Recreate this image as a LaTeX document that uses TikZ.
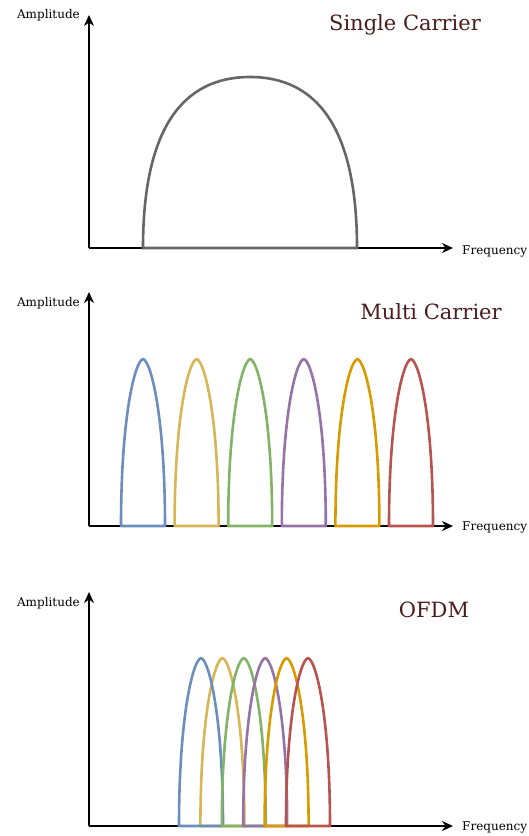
\documentclass[tikz,border=0pt]{standalone}
\usepackage{fontspec}
\setmainfont{DejaVu Serif}
\usetikzlibrary{arrows.meta}
\definecolor{titlered}{HTML}{4A1C1C}
\definecolor{domegray}{HTML}{666666}
\definecolor{cblue}{HTML}{6C8EBF}
\definecolor{cyellow}{HTML}{D6B656}
\definecolor{cgreen}{HTML}{82B366}
\definecolor{cpurple}{HTML}{9673A6}
\definecolor{corange}{HTML}{D79B00}
\definecolor{cred}{HTML}{B85450}

\begin{document}
\begin{tikzpicture}[x=1pt, y=-1pt,
    axis/.style={line width=1.8pt, -{Stealth[length=11pt,width=10pt]}},
    lbl/.style={font=\fontsize{12}{14}\selectfont, inner sep=1pt},
    title/.style={font=\fontsize{21}{24}\selectfont, text=titlered},
    lobe/.style={line width=2.6pt, line join=round}]
	\useasboundingbox (0,0) rectangle (528,836);
	
	% --- Single Carrier ---
	\coordinate (O1) at (89,248);
	\coordinate (Y1) at (89,15);
	\coordinate (X1) at (453,248);
	\draw[axis] (O1) -- (Y1);
	\draw[axis] (O1) -- (X1);
	\node[lbl, anchor=east] (amp1) at (81,15) {Amplitude};
	\node[lbl, anchor=west] (freq1) at (461,251) {Frequency};
	\node[title] (title1) at (405,25) {Single Carrier};
	
	% Spektrum eines Traegers
	\draw[domegray, line width=2.6pt] (143,248) .. controls (143,128) and (183,77) .. (250,77)
		.. controls (317,77) and (357,128) .. (357,248) -- cycle;
	
	% --- Multi Carrier ---
	\coordinate (O2) at (89,526);
	\coordinate (Y2) at (89,292);
	\coordinate (X2) at (453,526);
	\draw[axis] (O2) -- (Y2);
	\draw[axis] (O2) -- (X2);
	\node[lbl, anchor=east] (amp2) at (81,303) {Amplitude};
	\node[lbl, anchor=west] (freq2) at (461,527) {Frequency};
	\node[title] (title2) at (431,312) {Multi Carrier};
	
	% getrennte Unterträger
	\foreach \c [count=\i from 0] in {cblue,cyellow,cgreen,cpurple,corange,cred} {
		\pgfmathsetmacro\xa{121+53.6*\i}
		\draw[lobe, \c] (\xa,526) .. controls (\xa,416) and (\xa+14,361) .. (\xa+22,359)
			.. controls (\xa+30,361) and (\xa+44,416) .. (\xa+44,526) -- cycle;
	}
	
	% --- OFDM ---
	\coordinate (O3) at (89,826);
	\coordinate (Y3) at (89,592);
	\coordinate (X3) at (453,826);
	\draw[axis] (O3) -- (Y3);
	\draw[axis] (O3) -- (X3);
	\node[lbl, anchor=east] (amp3) at (81,603) {Amplitude};
	\node[lbl, anchor=west] (freq3) at (461,827) {Frequency};
	\node[title] (title3) at (434,610) {OFDM};
	
	% überlappende Unterträger
	\foreach \i/\c in {1/cyellow,0/cblue,2/cgreen,3/cpurple,4/corange,5/cred} {
		\pgfmathsetmacro\xa{179+21.4*\i}
		\draw[lobe, \c] (\xa,826) .. controls (\xa,716) and (\xa+14,660) .. (\xa+22,658)
			.. controls (\xa+30,660) and (\xa+44,716) .. (\xa+44,826) -- cycle;
	}
\end{tikzpicture}
\end{document}
